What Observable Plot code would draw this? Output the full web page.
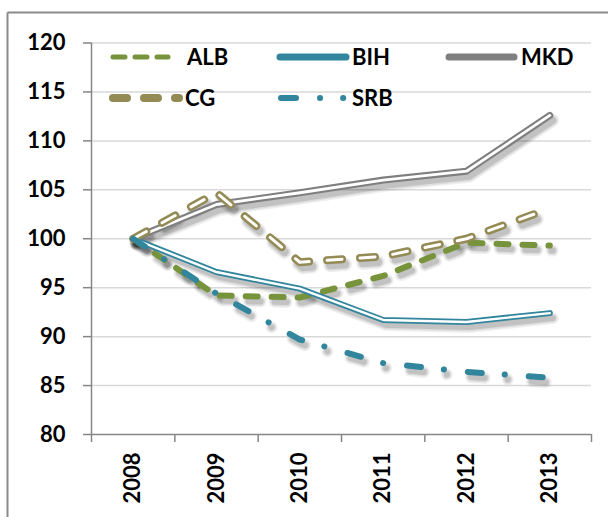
<!DOCTYPE html>
<html>
<head>
<meta charset="utf-8">
<script src="https://cdn.jsdelivr.net/npm/d3@7"></script>
<script src="https://cdn.jsdelivr.net/npm/@observablehq/plot@0.6"></script>
<style>
  html, body { margin: 0; padding: 0; background: #fff; }
  #chart { position: relative; width: 608px; height: 517px; }
</style>
</head>
<body>
<div id="chart"></div>
<script>
// ---- data ----
const years = [2008, 2009, 2010, 2011, 2012, 2013];
const ALB = [100, 94.2, 94.0, 96.2, 99.6, 99.3];
const BIH = [100, 96.6, 94.9, 91.7, 91.5, 92.4];
const MKD = [100, 103.5, 104.7, 106.0, 106.9, 112.6];
const CG  = [100, 104.7, 97.6, 98.2, 100.0, 103.1];
const SRB = [100, 94.4, 89.7, 87.3, 86.4, 85.8];
const yTicks = [80, 85, 90, 95, 100, 105, 110, 115, 120];
const seriesNames = ["ALB", "BIH", "MKD", "CG", "SRB"];

// ---- styles ----
const colors = {ALB: "#77933c", BIH: "#31859c", MKD: "#7f7f7f", CG: "#948a54", SRB: "#31859c"};
const axisGray = "#868686";
const gridGray = "#d9d9d9";
const font = "Lato, 'Liberation Sans', sans-serif";

const rows = (vals) => years.map((yr, i) => ({year: yr, v: vals[i]}));
const boundaries = years.map(y => y - 0.5).concat([years[years.length - 1] + 0.5]);

// soft shadow drawn as layered translucent offset lines
const shadow = (vals, w, dash) => [
  [w + 6, 0.06], [w + 3, 0.08], [w, 0.12]
].map(([sw, op]) => Plot.line(rows(vals), {
  x: "year", y: "v", stroke: "#000", strokeOpacity: op, strokeWidth: sw,
  strokeDasharray: dash || null, strokeLinecap: "round", strokeLinejoin: "round",
  dx: 3, dy: 5
}));

const lineOpts = {x: "year", y: "v", strokeLinecap: "round", strokeLinejoin: "round"};

const svg = Plot.plot({
  width: 608,
  height: 517,
  marginLeft: 91,
  marginRight: 17,
  marginTop: 42.5,
  marginBottom: 83,
  x: {domain: [years[0] - 0.5, years[years.length - 1] + 0.5]},
  y: {domain: [80, 120]},
  style: {fontFamily: font, fontSize: "22px", fontWeight: "bold", color: "#000", background: "#fff", overflow: "visible"},
  marks: [
    Plot.ruleY(yTicks.filter(t => t > 80), {stroke: gridGray, strokeWidth: 1.5}),
    Plot.axisY({ticks: yTicks, tickSize: 8, tickPadding: 18, label: null, stroke: axisGray, strokeWidth: 1.5, fill: "#000", fontSize: 22, fontWeight: "bold"}),
    Plot.ruleX([years[0] - 0.5], {stroke: axisGray, strokeWidth: 1.5}),
    Plot.ruleY([80], {stroke: axisGray, strokeWidth: 1.5}),
    Plot.axisX({ticks: boundaries, tickSize: 8, label: null, tickFormat: () => "", stroke: axisGray, strokeWidth: 1.5}),
    Plot.text(years, {x: d => d, y: 80, text: d => String(d), rotate: -90, textAnchor: "end", lineAnchor: "middle", dy: 18, fontSize: 22, fontWeight: "bold", fill: "#000"}),

    // shadows
    ...shadow(ALB, 6, "12,14"),
    ...shadow(BIH, 6),
    ...shadow(MKD, 7),
    ...shadow(CG, 8, "15,18"),
    ...shadow(SRB, 6, "14,23,0.1,24"),

    // ALB: thick dashed green
    Plot.line(rows(ALB), {...lineOpts, stroke: colors.ALB, strokeWidth: 6, strokeDasharray: "12,14"}),
    // BIH: double line
    Plot.line(rows(BIH), {...lineOpts, stroke: colors.BIH, strokeWidth: 6}),
    Plot.line(rows(BIH), {...lineOpts, stroke: "#fff", strokeWidth: 2.4}),
    // MKD: double line
    Plot.line(rows(MKD), {...lineOpts, stroke: colors.MKD, strokeWidth: 7}),
    Plot.line(rows(MKD), {...lineOpts, stroke: "#fff", strokeWidth: 2.8}),
    // CG: dashed double line
    Plot.line(rows(CG), {...lineOpts, stroke: colors.CG, strokeWidth: 8, strokeDasharray: "15,18"}),
    Plot.line(rows(CG), {...lineOpts, stroke: "#fff", strokeWidth: 3, strokeDasharray: "15,18"}),
    // SRB: dash-dot
    Plot.line(rows(SRB), {...lineOpts, stroke: colors.SRB, strokeWidth: 6, strokeDasharray: "14,23,0.1,24"})
  ]
});

const s = d3.select(svg);

// outer frame lines (top and left)
s.append("line").attr("x1", 7.5).attr("x2", 608).attr("y1", 12.5).attr("y2", 12.5).attr("stroke", "#8a8a8a").attr("stroke-width", 2);
s.append("line").attr("x1", 7.5).attr("x2", 7.5).attr("y1", 12.5).attr("y2", 517).attr("stroke", "#8a8a8a").attr("stroke-width", 2);

// legend
const legendItems = [
  {name: seriesNames[0], x1: 113, x2: 168, y: 57, w: 5, dash: "12,10", tx: 187},
  {name: seriesNames[1], x1: 280, x2: 346, y: 57, w: 7, dash: null, tx: 352},
  {name: seriesNames[2], x1: 449, x2: 514, y: 57, w: 7, dash: null, tx: 521},
  {name: seriesNames[3], x1: 113, x2: 179, y: 98, w: 8, dash: "14,17", tx: 185},
  {name: seriesNames[4], x1: 281, x2: 343.2, y: 98, w: 6, dash: "15,24,0.1,23", tx: 352}
];
const lg = s.append("g").attr("class", "legend").attr("text-anchor", "start");
legendItems.forEach(it => {
  const ln = lg.append("line").attr("x1", it.x1).attr("x2", it.x2).attr("y1", it.y).attr("y2", it.y)
    .attr("stroke", colors[it.name]).attr("stroke-width", it.w).attr("stroke-linecap", "round");
  if (it.dash) ln.attr("stroke-dasharray", it.dash);
  lg.append("text").attr("x", it.tx).attr("y", it.y).attr("dy", "0.36em").attr("text-anchor", "start")
    .attr("font-family", font).attr("font-size", 22).attr("font-weight", "bold").attr("fill", "#000")
    .text(it.name);
});

document.getElementById("chart").appendChild(svg);
</script>
</body>
</html>
